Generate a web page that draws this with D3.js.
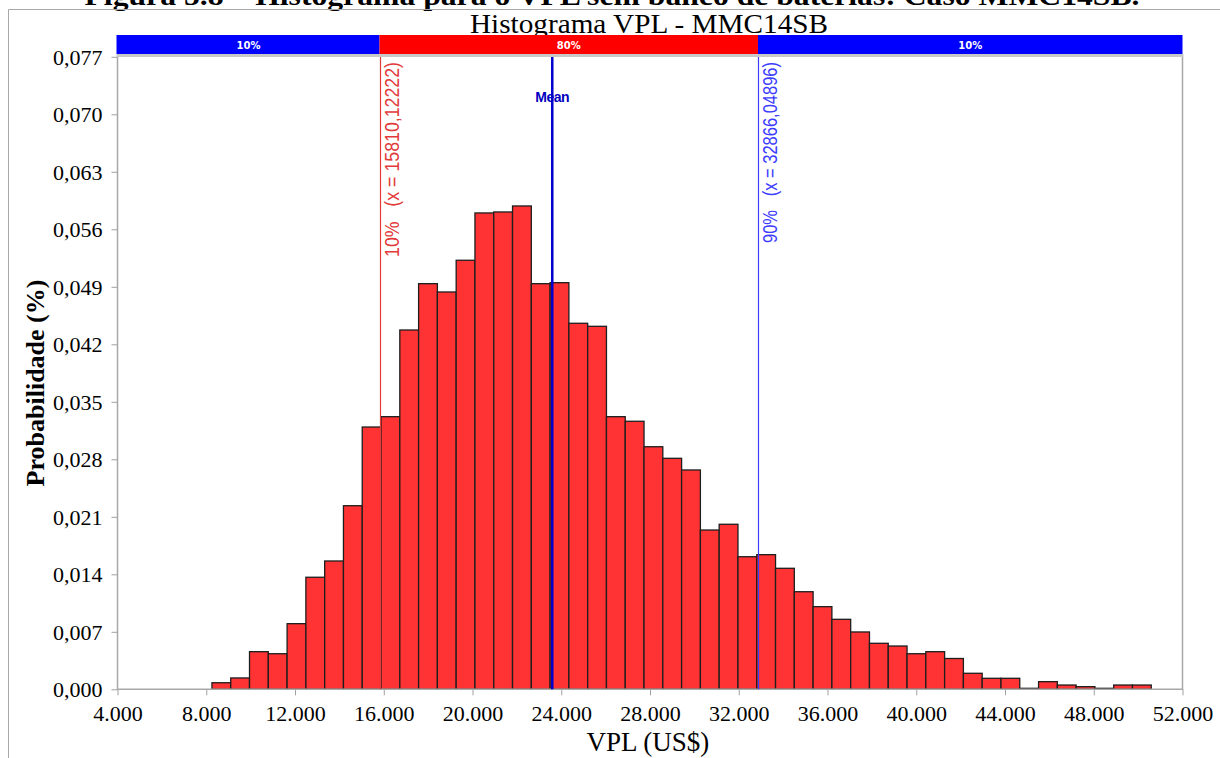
<!DOCTYPE html>
<html>
<head>
<meta charset="utf-8">
<script src="https://cdnjs.cloudflare.com/ajax/libs/d3/7.8.5/d3.min.js"></script>
<style>
	body { margin: 0; background: #fff; }
	svg { display: block; }
	text { white-space: pre; }
	.serif { font-family: "Liberation Serif", "Times New Roman", serif; }
	.sans { font-family: "Liberation Sans", Arial, sans-serif; }
</style>
</head>
<body>
<svg id="chart" width="1220" height="758"></svg>
<script>
// histogram bins (VPL in US$), 50 equal bins
var binStart = 8257;
var binWidth = 846.7;
var probabilities = [
	0.0008, 0.00138, 0.00458, 0.00433, 0.00799, 0.01364, 0.01562, 0.02235, 0.03193, 0.03319,
	0.04374, 0.04938, 0.04837, 0.05223, 0.05799, 0.05811, 0.05884, 0.04938, 0.0495, 0.04456,
	0.04419, 0.03319, 0.03263, 0.02953, 0.02812, 0.0267, 0.01939, 0.02009, 0.01614, 0.01639,
	0.01473, 0.01188, 0.01006, 0.00852, 0.00698, 0.0056, 0.00527, 0.00433, 0.00458, 0.00375,
	0.00195, 0.00134, 0.00134, 0.00012, 0.00093, 0.00052, 0.00032, 0.00012, 0.00052, 0.00052
];

var xTicks = [4000, 8000, 12000, 16000, 20000, 24000, 28000, 32000, 36000, 40000, 44000, 48000, 52000];
var yTicks = [0, 0.007, 0.014, 0.021, 0.028, 0.035, 0.042, 0.049, 0.056, 0.063, 0.070, 0.077];

var percentileNames = ["10%", "90%"];
var percentileValues = [15810.12222, 32866.04896];
var percentileColors = ["#e23a3a", "#3d3dff"];
var percentileLengths = [195, 181];
var meanValue = 23595;

var bandLabels = ["10%", "80%", "10%"];
var bandColors = ["#0000ff", "#ff0000", "#0000ff"];

var Histogram = {
	plot: { left: 117.5, right: 1182.5, top: 56.8, bottom: 689.3 },
	svg: null,
	x: null,
	y: null,
	locale: d3.formatLocale({ decimal: ",", thousands: ".", grouping: [3], currency: ["$", ""] }),

	init: function() {
		var self = this;

		self.svg = d3.select("#chart");
		self.x = d3.scaleLinear()
			.domain([4000, 52000])
			.range([self.plot.left, self.plot.right]);
		self.y = d3.scaleLinear()
			.domain([0, 0.077])
			.range([self.plot.bottom, self.plot.top]);

		self.svg.append("rect")
			.attr("width", 1220)
			.attr("height", 758)
			.style("fill", "white");

		self.drawFrame();
		self.drawTitles();
		self.drawBars();
		self.drawAxes();
		self.drawMarkers();
		self.drawBand();
	},
	drawFrame: function() {
		var self = this;

		// caption of the document page, cut off at the top in the original too
		self.svg.append("text")
			.attr("class", "serif")
			.attr("x", 612)
			.attr("y", 5)
			.attr("text-anchor", "middle")
			.attr("textLength", 1055)
			.attr("lengthAdjust", "spacingAndGlyphs")
			.style("font-weight", "bold")
			.style("font-size", "27px")
			.text("Figura 5.8 – Histograma para o VPL sem banco de baterias: Caso MMC14SB.");

		self.svg.append("path")
			.attr("d", "M8.5,758V9.5H1220")
			.style("fill", "none")
			.style("stroke", "#a8a8a8");
	},
	drawTitles: function() {
		var self = this;

		self.svg.append("text")
			.attr("class", "serif")
			.attr("x", 649)
			.attr("y", 32.5)
			.attr("text-anchor", "middle")
			.attr("textLength", 358)
			.attr("lengthAdjust", "spacingAndGlyphs")
			.style("font-size", "27px")
			.text("Histograma VPL - MMC14SB");

		self.svg.append("text")
			.attr("class", "serif")
			.attr("x", 648)
			.attr("y", 751)
			.attr("text-anchor", "middle")
			.style("font-size", "27px")
			.text("VPL (US$)");

		self.svg.append("text")
			.attr("class", "serif")
			.attr("transform", "translate(44,383) rotate(-90)")
			.attr("text-anchor", "middle")
			.style("font-weight", "bold")
			.style("font-size", "26px")
			.text("Probabilidade (%)");
	},
	drawBars: function() {
		var self = this;

		self.svg.append("g")
			.attr("class", "bars")
			.selectAll("rect")
			.data(probabilities)
			.enter()
			.append("rect")
			.attr("x", function(d, i) { return self.x(binStart + i * binWidth); })
			.attr("y", function(d) { return self.y(d); })
			.attr("width", function(d, i) {
				return self.x(binStart + (i + 1) * binWidth) - self.x(binStart + i * binWidth);
			})
			.attr("height", function(d) { return self.y(0) - self.y(d); })
			.style("fill", "#ff3333")
			.style("stroke", "#1e1e1e")
			.style("stroke-width", 1.3);
	},
	drawAxes: function() {
		var self = this;
		var xFormat = self.locale.format(",.0f");
		var yFormat = self.locale.format(".3f");

		var xAxis = self.svg.append("g")
			.attr("transform", "translate(0," + self.plot.bottom + ")")
			.call(d3.axisBottom(self.x).tickValues(xTicks).tickFormat(xFormat).tickSize(6).tickPadding(10));

		var yAxis = self.svg.append("g")
			.attr("transform", "translate(" + self.plot.left + ",0)")
			.call(d3.axisLeft(self.y).tickValues(yTicks).tickFormat(yFormat).tickSize(6).tickPadding(9));

		[xAxis, yAxis].forEach(function(axis) {
			axis.attr("font-family", null);
			axis.select(".domain").remove();
			axis.selectAll("line").style("stroke", "#a0a0a0");
			axis.selectAll("text")
				.attr("class", "serif")
				.style("font-size", "22px")
				.style("fill", "black");
		});
		yAxis.selectAll("text").attr("dy", "0.34em");

		// plot border: grey left, bottom and right
		self.svg.append("path")
			.attr("d", "M" + self.plot.left + "," + self.plot.top + "V" + self.plot.bottom +
				"H" + self.plot.right + "V" + self.plot.top)
			.style("fill", "none")
			.style("stroke", "#a8a8a8")
			.style("stroke-width", 1.5);
	},
	drawMarkers: function() {
		var self = this;

		percentileValues.forEach(function(v, i) {
			var px = Math.round(self.x(v)) + 0.5;

			self.svg.append("line")
				.attr("x1", px)
				.attr("x2", px)
				.attr("y1", self.plot.top)
				.attr("y2", self.plot.bottom)
				.style("stroke", percentileColors[i])
				.style("stroke-width", 1.2);

			self.svg.append("text")
				.attr("class", "sans")
				.attr("transform", "translate(" + (px + 18) + ",62) rotate(-90)")
				.attr("text-anchor", "end")
				.attr("textLength", percentileLengths[i])
				.attr("lengthAdjust", "spacingAndGlyphs")
				.style("font-size", "21px")
				.style("fill", percentileColors[i])
				.text(percentileNames[i] + "   (x = " + d3.format(".5f")(v).replace(".", ",") + ")");
		});

		// mean line
		var mx = self.x(meanValue);
		self.svg.append("line")
			.attr("x1", mx)
			.attr("x2", mx)
			.attr("y1", self.plot.top)
			.attr("y2", self.plot.bottom)
			.style("stroke", "#0000d0")
			.style("stroke-width", 2.5);

		self.svg.append("text")
			.attr("class", "sans")
			.attr("x", mx)
			.attr("y", 102)
			.attr("text-anchor", "middle")
			.style("font-weight", "bold")
			.style("font-size", "14px")
			.style("letter-spacing", "-0.5px")
			.style("fill", "#0000c0")
			.text("Mean");
	},
	drawBand: function() {
		var self = this;
		var edges = [4000, percentileValues[0], percentileValues[1], 52000];

		self.svg.append("rect")
			.attr("x", self.plot.left - 1)
			.attr("y", 54)
			.attr("width", self.plot.right - self.plot.left + 2)
			.attr("height", 3)
			.style("fill", "#c8c8c8");

		var band = self.svg.append("g")
			.selectAll("g")
			.data(bandLabels)
			.enter()
			.append("g");

		band.append("rect")
			.attr("x", function(d, i) { return self.x(edges[i]) - (i == 0 ? 1 : 0); })
			.attr("y", 35)
			.attr("width", function(d, i) {
				return self.x(edges[i + 1]) - self.x(edges[i]) + (i == 0 ? 1 : 0);
			})
			.attr("height", 19)
			.style("fill", function(d, i) { return bandColors[i]; });

		band.append("text")
			.attr("x", function(d, i) { return (self.x(edges[i]) + self.x(edges[i + 1])) / 2; })
			.attr("y", 48.5)
			.attr("text-anchor", "middle")
			.style("font-family", "DejaVu Sans")
			.style("font-weight", "bold")
			.style("font-size", "10px")
			.style("fill", "white")
			.text(function(d) { return d; });
	}
};

Histogram.init();
</script>
</body>
</html>
